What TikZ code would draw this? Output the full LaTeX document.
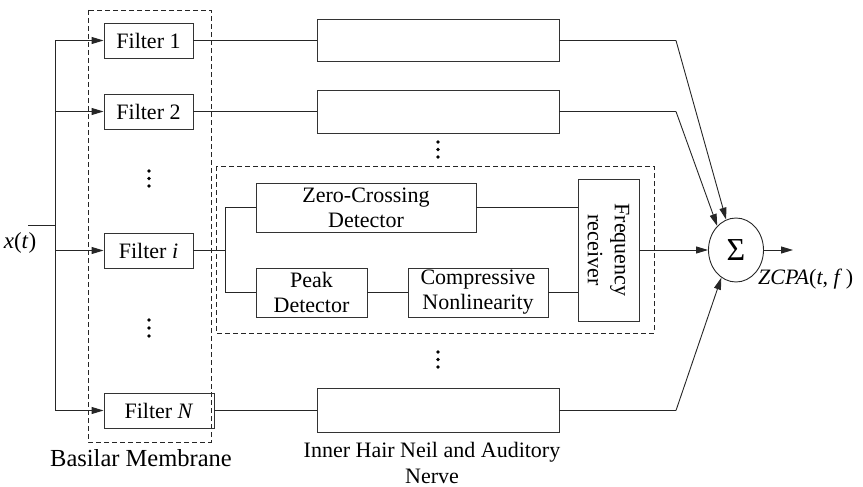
\documentclass[tikz,border=0pt]{standalone}
\usepackage{fontspec}
\setmainfont{Liberation Serif}
\usetikzlibrary{arrows.meta,shapes.geometric}
\begin{document}
\begin{tikzpicture}[x=1pt,y=-1pt,
  box/.style={draw=black!80, line width=0.9pt, inner sep=0pt, font=\fontsize{22}{25}\selectfont, align=center},
  ln/.style={draw=black!85, line width=0.9pt},
  arr/.style={ln, -{Triangle[length=12pt,width=7pt]}},
  dbox/.style={draw=black!85, line width=0.8pt, dash pattern=on 5pt off 3pt},
  dotc/.style={fill=black, circle, inner sep=0pt, minimum size=3.6pt},
  lbl/.style={font=\fontsize{22}{26}\selectfont, align=center, inner sep=0pt}]
\useasboundingbox (0,0) rectangle (863,487);
% dashed groups
\draw[dbox] (88,10) rectangle (211,442);
\draw[dbox] (216,166) rectangle (654,333);
% filters
\node[box, minimum width=89pt, minimum height=35pt] (f1) at (148.5,40.5) {Filter 1};
\node[box, minimum width=89pt, minimum height=35pt] (f2) at (148.5,111.5) {Filter 2};
\node[box, minimum width=89pt, minimum height=35pt] (fi) at (148.5,250.5) {Filter \textit{i}};
\node[box, minimum width=110pt, minimum height=35pt] (fN) at (159,410.5) {Filter \textit{N}};
% IHC boxes
\node[box, minimum width=242pt, minimum height=42pt] (h1) at (438,40.5) {};
\node[box, minimum width=242pt, minimum height=43pt] (h2) at (438,111.5) {};
\node[box, minimum width=242pt, minimum height=44pt] (hN) at (438,410.5) {};
% detail blocks
\node[box, minimum width=220pt, minimum height=49pt] (zc) at (366,207.5) {Zero-Crossing\\Detector};
\node[box, minimum width=111pt, minimum height=49pt] (pd) at (311.5,292.5) {Peak\\Detector};
\node[box, minimum width=140pt, minimum height=49pt] (cn) at (478,292.5) {Compressive\\Nonlinearity};
\node[box, minimum width=61pt, minimum height=142pt] (fr) at (608.5,250) {};
\node[lbl, rotate=-90, font=\fontsize{22}{27}\selectfont] at (fr.center) {Frequency\\receiver};
% sum
\node[draw=black!85, line width=0.9pt, ellipse, minimum width=55pt, minimum height=64pt, inner sep=0pt, font=\fontsize{32}{32}\selectfont] (sig) at (736,250) {Σ};
% dots
\foreach \y in {171,178.5,186} \node[dotc] at (149,\y) {};
\foreach \y in {320,328,336} \node[dotc] at (149,\y) {};
\foreach \y in {142,149.5,157} \node[dotc] at (438,\y) {};
\foreach \y in {352,359.5,367} \node[dotc] at (438,\y) {};
% coordinates
\coordinate (xin) at (28,225);
\coordinate (bj) at (55,225);
\coordinate (b1) at (55,40.5);
\coordinate (b2) at (55,111.5);
\coordinate (bi) at (55,250.5);
\coordinate (bN) at (55,410.5);
\coordinate (sj) at (225,250.5);
\coordinate (k1) at (676,40.5);
\coordinate (k2) at (676,111.5);
\coordinate (kN) at (676,410.5);
\coordinate (out) at (793,250);
% wires
\draw[ln] (xin) -- (bj);
\draw[ln] (b1) -- (bN);
\draw[arr] (b1) -- (f1.west);
\draw[arr] (b2) -- (f2.west);
\draw[arr] (bi) -- (fi.west);
\draw[arr] (bN) -- (fN.west);
\draw[ln] (f1.east) -- (h1.west);
\draw[ln] (f2.east) -- (h2.west);
\draw[ln] (fN.east) -- (hN.west);
\draw[ln] (fi.east) -- (sj);
\draw[ln] (sj |- zc.west) -- (sj |- pd.west);
\draw[ln] (sj |- zc.west) -- (zc.west);
\draw[ln] (sj |- pd.west) -- (pd.west);
\draw[ln] (pd.east) -- (cn.west);
\draw[ln] (zc.east) -- (zc.east -| fr.west);
\draw[ln] (cn.east) -- (cn.east -| fr.west);
\draw[arr] (fr.east) -- (sig.west);
\draw[arr] (sig.east) -- (out);
\draw[ln] (h1.east) -- (k1);
\draw[arr] (k1) -- (sig.108);
\draw[ln] (h2.east) -- (k2);
\draw[arr] (k2) -- (sig.128);
\draw[ln] (hN.east) -- (kN);
\draw[arr] (kN) -- (sig.242);
% labels
\node[lbl, font=\fontsize{23}{26}\selectfont] (xl) at (20,243) {\textit{x}(\textit{t})};
\node[lbl, font=\fontsize{24.5}{28}\selectfont] (bm) at (141,458) {Basilar Membrane};
\node[lbl] (ih) at (432,463) {Inner Hair Neil and Auditory\\Nerve};
\node[lbl, anchor=west] (zl) at (758,279) {\textit{ZCPA}(\textit{t}, \textit{f}\,)};
\end{tikzpicture}
\end{document}
